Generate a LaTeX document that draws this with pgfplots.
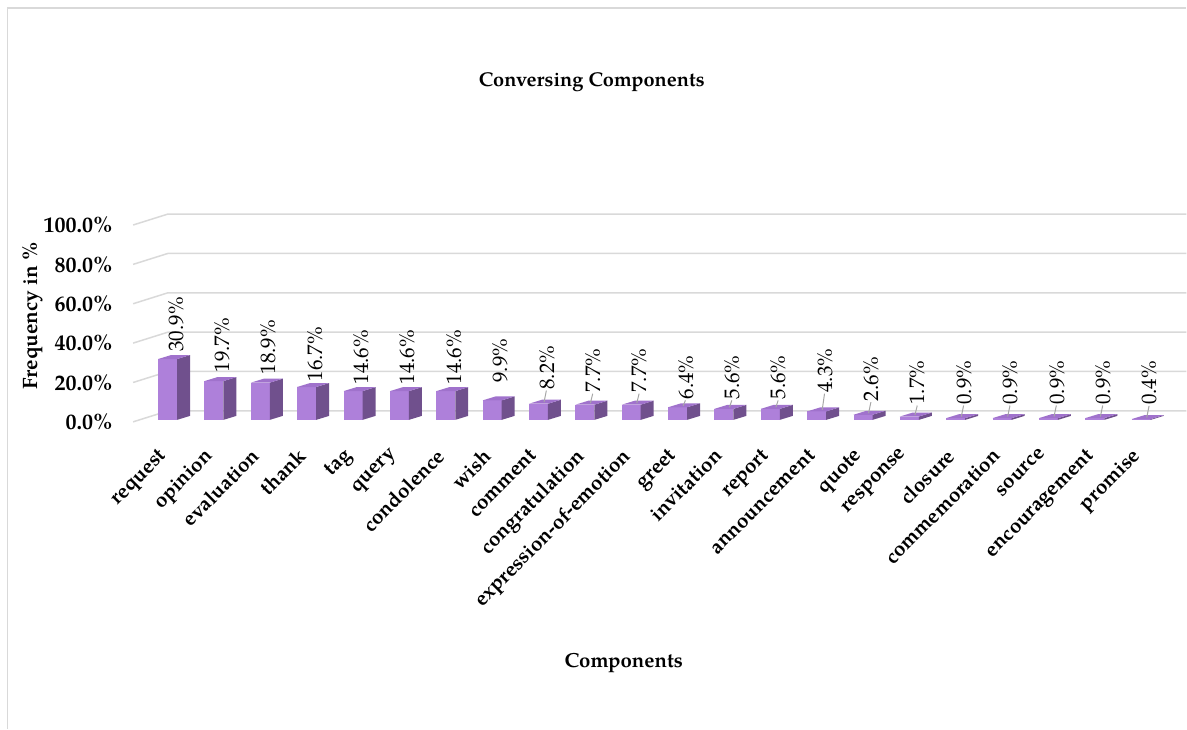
\documentclass[border=0pt]{standalone}
\usepackage{pgfplots}
\usepackage{pgfplotstable}
\pgfplotsset{compat=1.18}
\usepackage{fontspec}
\setmainfont{TeX Gyre Pagella}

\definecolor{barfront}{RGB}{174,128,218}
\definecolor{bartop}{RGB}{160,114,204}
\definecolor{barside}{RGB}{112,80,141}
\definecolor{gridgray}{RGB}{217,217,217}
\definecolor{leadergray}{RGB}{166,166,166}

% idx, component, share in percent, height of its data label
\pgfplotstableread{
idx name value lab
0 request 30.9 35.5
1 opinion 19.7 24.9
2 evaluation 18.9 23.9
3 thank 16.7 20.3
4 tag 14.6 18.8
5 query 14.6 18.8
6 condolence 14.6 18.8
7 wish 9.9 19.7
8 comment 8.2 16.2
9 congratulation 7.7 14.6
10 expression-of-emotion 7.7 14.6
11 greet 6.4 11.2
12 invitation 5.6 11.2
13 report 5.6 11.2
14 announcement 4.3 14.6
15 quote 2.6 10.3
16 response 1.7 8.6
17 closure 0.9 8.6
18 commemoration 0.9 8.6
19 source 0.9 8.6
20 encouragement 0.9 8.6
21 promise 0.4 8.4
}\comp

% geometry of the oblique 3-D look (x in category steps, y in percent)
\def\bw{0.205}   % half width of a bar front
\def\bd{0.28}    % bar depth, horizontal
\def\be{2.03}    % bar depth, vertical
\def\bb{1.0}     % bar base
\def\fx{-0.743}  % front edge of the floor
\def\wx{0.01}    % left edge of the back wall
\def\we{5.58}    % rise from front to back wall

\begin{document}
\begin{tikzpicture}
\begin{axis}[
  scale only axis,
  width=593.5pt, height=364.5pt,
  xmin=-3.610, xmax=21.972,
  ymin=-155.84, ymax=214.21,
  axis line style={draw=none},
  major tick length=0pt,
  clip=false,
  /pgf/number format/assume math mode=true,
  ytick={0,20,40,60,80,100},
  yticklabel={\pgfmathprintnumber[fixed,fixed zerofill,precision=1]{\tick}\%},
  yticklabel style={font=\fontsize{11pt}{13pt}\selectfont\bfseries, anchor=east, inner sep=0pt, xshift=56.5pt},
  xtick={0,...,21},
  xticklabels from table={\comp}{name},
  xticklabel style={font=\fontsize{10.3pt}{12pt}\selectfont\bfseries, yshift=141pt, xshift=-5pt, rotate=45, anchor=north east, inner sep=0pt},
  title={Conversing Components},
  title style={font=\bfseries, at={(axis description cs:0.4987,0.8903)}, anchor=center, yshift=-7pt},
  xlabel={Components},
  xlabel style={font=\fontsize{10.2pt}{12pt}\selectfont\bfseries, at={(axis description cs:0.5257,0.0905)}, anchor=center},
  ylabel={Frequency in \%},
  ylabel style={font=\fontsize{10.4pt}{12pt}\selectfont\bfseries, at={(axis description cs:0.0278,0.5665)}, anchor=center, rotate=0},
]
% outline of the chart area
\draw[gridgray, line width=0.75pt] (axis description cs:0.00632,0) -- (axis description cs:0.00632,0.98903) -- (axis description cs:1,0.98903);

% floor and wall gridlines
\pgfplotsinvokeforeach{0,20,40,60,80,100}{
  \pgfmathsetmacro\gy{#1+\we}
  \addplot[gridgray, line width=0.75pt] coordinates {(\fx,#1) (\wx,\gy) (21.972,\gy)};
}

% bars: front, side and top faces
\pgfplotsinvokeforeach{0,...,21}{
  \pgfplotstablegetelem{#1}{value}\of\comp
  \pgfmathsetmacro\vt{\bb+\pgfplotsretval}
  \pgfmathsetmacro\vte{\vt+\be}
  \pgfmathsetmacro\bbe{\bb+\be}
  \pgfmathsetmacro\xl{#1-\bw}
  \pgfmathsetmacro\xr{#1+\bw}
  \pgfmathsetmacro\xrd{#1+\bw+\bd}
  \pgfmathsetmacro\xld{#1-\bw+\bd}
  \addplot[draw=none, fill=barfront] coordinates {(\xl,\bb) (\xr,\bb) (\xr,\vt) (\xl,\vt)};
  \addplot[draw=none, fill=barside] coordinates {(\xr,\bb) (\xrd,\bbe) (\xrd,\vte) (\xr,\vt)};
  \addplot[draw=none, fill=bartop] coordinates {(\xl,\vt) (\xr,\vt) (\xrd,\vte) (\xld,\vte)};
  \ifnum#1>7
    \pgfplotstablegetelem{#1}{lab}\of\comp
    \pgfmathsetmacro\ly{\pgfplotsretval-0.3}
    \pgfmathsetmacro\lx{#1+0.17}
    \pgfmathsetmacro\sx{#1+0.12}
    \pgfmathsetmacro\sy{\vt+0.8}
    \addplot[leadergray, line width=0.5pt] coordinates {(\sx,\sy) (\lx,\ly)};
  \fi
}

% data labels
\addplot[draw=none, mark=none, point meta=explicit,
  nodes near coords={\pgfmathprintnumber[fixed,fixed zerofill,precision=1]{\pgfplotspointmeta}\%},
  nodes near coords style={rotate=90, anchor=west, inner sep=0pt, font=\fontsize{10.5pt}{12pt}\selectfont, text=black}]
  table[x expr=\thisrow{idx}+0.18, y=lab, meta=value]{\comp};
\end{axis}
\end{tikzpicture}
\end{document}
